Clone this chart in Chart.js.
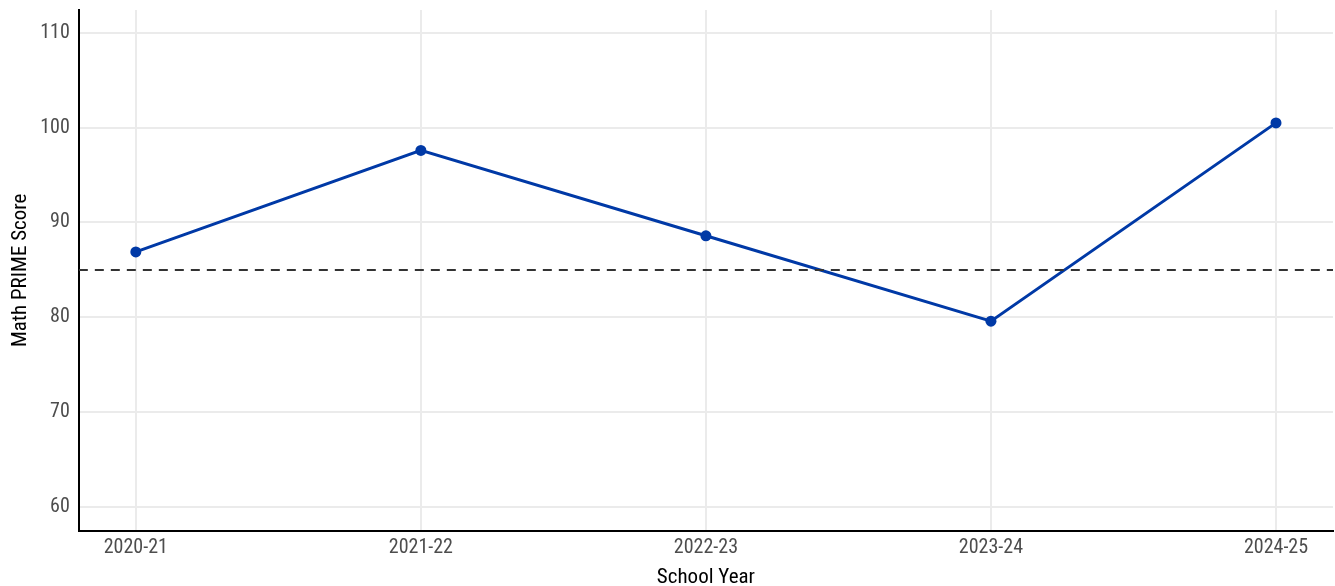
<!DOCTYPE html>
<html>
<head>
<meta charset="utf-8">
<script src="https://cdn.jsdelivr.net/npm/chart.js@4.4.1/dist/chart.umd.min.js"></script>
<style>
  html, body { margin: 0; padding: 0; background: #ffffff; }
  #wrap { width: 1335px; height: 586px; }
</style>
</head>
<body>
<div id="wrap"><canvas id="primeChart"></canvas></div>
<script>
const schoolYears = ['2020-21', '2021-22', '2022-23', '2023-24', '2024-25'];
const mathScores = [86.9, 97.6, 88.6, 79.6, 100.5];
const benchmark = 85;
const yTicks = [60, 70, 80, 90, 100, 110];

const fontFamily = '"Liberation Sans Narrow", "Roboto Condensed", "Liberation Sans", sans-serif';

const ctx = document.getElementById('primeChart').getContext('2d');

new Chart(ctx, {
    type: 'line',
    data: {
        datasets: [
            {
                label: 'Benchmark',
                data: [{ x: -0.2, y: benchmark }, { x: schoolYears.length - 0.8, y: benchmark }],
                borderColor: '#333333',
                borderWidth: 2,
                borderDash: [9, 7],
                pointRadius: 0,
                fill: false
            },
            {
                label: 'Math PRIME Score',
                data: mathScores.map((v, i) => ({ x: i, y: v })),
                borderColor: '#0039a6',
                backgroundColor: '#0039a6',
                borderWidth: 3,
                pointRadius: 5.5,
                pointBorderWidth: 0,
                tension: 0,
                fill: false
            }
        ]
    },
    options: {
        responsive: true,
        maintainAspectRatio: false,
        animation: false,
        layout: { autoPadding: false, padding: { top: 10, right: 2, left: 8, bottom: -4 } },
        plugins: {
            legend: { display: false },
            tooltip: { enabled: false }
        },
        scales: {
            x: {
                type: 'linear',
                min: -0.2,
                max: schoolYears.length - 0.8,
                afterBuildTicks: axis => {
                    axis.ticks = schoolYears.map((_, i) => ({ value: i }));
                },
                afterFit: axis => {
                    axis.paddingRight = 0;
                    axis.paddingLeft = 0;
                },
                ticks: {
                    color: '#4d4d4d',
                    font: { family: fontFamily, size: 20 },
                    padding: 5,
                    callback: v => schoolYears[v]
                },
                grid: { color: '#ebebeb', lineWidth: 2, drawTicks: false },
                border: { color: '#000000', width: 2 },
                title: {
                    display: true,
                    text: 'School Year',
                    color: '#000000',
                    font: { family: fontFamily, size: 21 },
                    padding: { top: 0, bottom: 0 }
                }
            },
            y: {
                min: 57.5,
                max: 112.4,
                afterBuildTicks: axis => {
                    axis.ticks = yTicks.map(v => ({ value: v }));
                },
                afterFit: axis => {
                    axis.paddingTop = 0;
                    axis.paddingBottom = 0;
                },
                ticks: {
                    color: '#4d4d4d',
                    font: { family: fontFamily, size: 20 },
                    padding: 9
                },
                grid: { color: '#ebebeb', lineWidth: 2, drawTicks: false },
                border: { color: '#000000', width: 2 },
                title: {
                    display: true,
                    text: 'Math PRIME Score',
                    color: '#000000',
                    font: { family: fontFamily, size: 21 },
                    padding: { top: 0, bottom: -2 }
                }
            }
        }
    }
});
</script>
</body>
</html>
